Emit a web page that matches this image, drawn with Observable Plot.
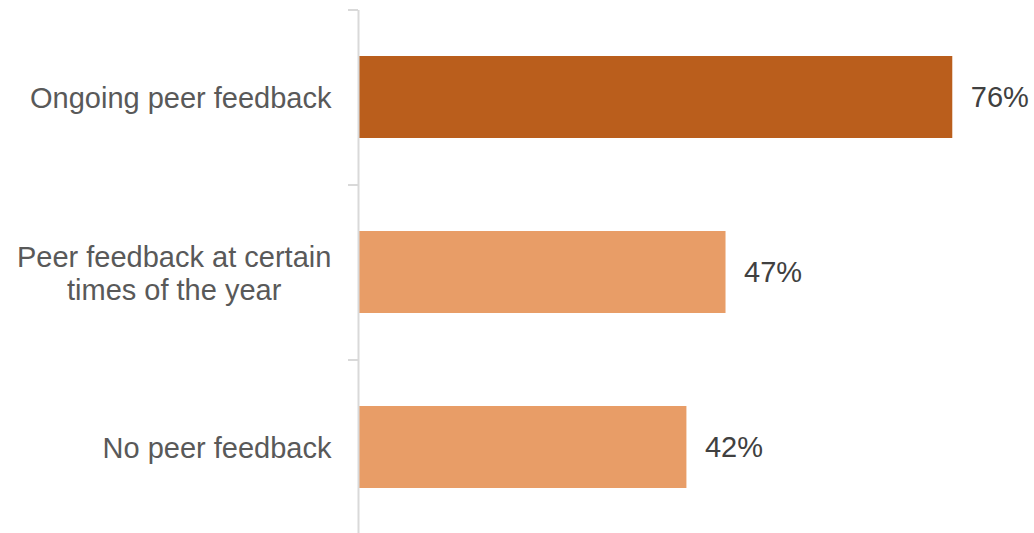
<!DOCTYPE html>
<html>
<head>
<meta charset="utf-8">
<script src="https://cdn.jsdelivr.net/npm/d3@7"></script>
<script src="https://cdn.jsdelivr.net/npm/@observablehq/plot@0.6"></script>
<style>
  html, body { margin: 0; padding: 0; background: #fff; }
  #chart svg { display: block; }
</style>
</head>
<body>
<div id="chart"></div>
<script>
const categories = ["Ongoing peer feedback", "Peer feedback at certain\ntimes of the year", "No peer feedback"];
const values = [76, 47, 42];
const highlight = [true, false, false];

const data = categories.map((c, i) => ({category: c, value: values[i], hi: highlight[i]}));

const W = 1034, H = 533;
const marginTop = 10, marginBottom = -2, marginLeft = 358, marginRight = 9;
const xMax = 85.3;
const step = (H - marginTop - marginBottom) / categories.length;

const chart = Plot.plot({
  width: W,
  height: H,
  marginTop, marginBottom, marginLeft, marginRight,
  style: {fontFamily: "'Liberation Sans', Arial, sans-serif", fontSize: "29px", background: "#fff", overflow: "visible"},
  x: {domain: [0, xMax], axis: null},
  y: {domain: categories, paddingInner: 0.53, paddingOuter: 0.265, axis: null},
  marks: [
    Plot.barX(data, {
      y: "category", x: "value",
      fill: d => d.hi ? "#BA5E1C" : "#E89D67",
      insetLeft: 1
    }),
    // axis line
    Plot.ruleX([0], {stroke: "#d9d9d9", strokeWidth: 2}),
    // boundary ticks (top of each band)
    Plot.tickY(categories, {
      y: d => d, dy: -step / 2, stroke: "#d9d9d9", strokeWidth: 2,
      render: (index, scales, values, dimensions, context, next) => {
        const g = next(index, scales, values, dimensions, context);
        d3.select(g).selectAll("line")
          .attr("x1", scales.x(0) - 10)
          .attr("x2", scales.x(0));
        return g;
      }
    }),
    // category labels
    Plot.text(data, {
      y: "category", x: 0, text: "category",
      textAnchor: "end", dx: -27, fontSize: 29, fill: "#595959", lineHeight: 1.14,
      className: "cat-label"
    }),
    // value labels
    Plot.text(data, {
      y: "category", x: "value", text: d => d.value + "%",
      textAnchor: "start", dx: 18, fontSize: 29, fill: "#404040"
    })
  ]
});
document.getElementById("chart").append(chart);

// center the lines of multi-line category labels within their right-aligned block
d3.select(chart).selectAll(".cat-label text").each(function () {
  const tspans = this.querySelectorAll("tspan");
  if (tspans.length < 2) return;
  const w = this.getBBox().width;
  this.setAttribute("text-anchor", "middle");
  tspans.forEach(t => {
    const x0 = +(t.getAttribute("x") || 0);
    t.setAttribute("x", x0 - w / 2);
  });
});
</script>
</body>
</html>
